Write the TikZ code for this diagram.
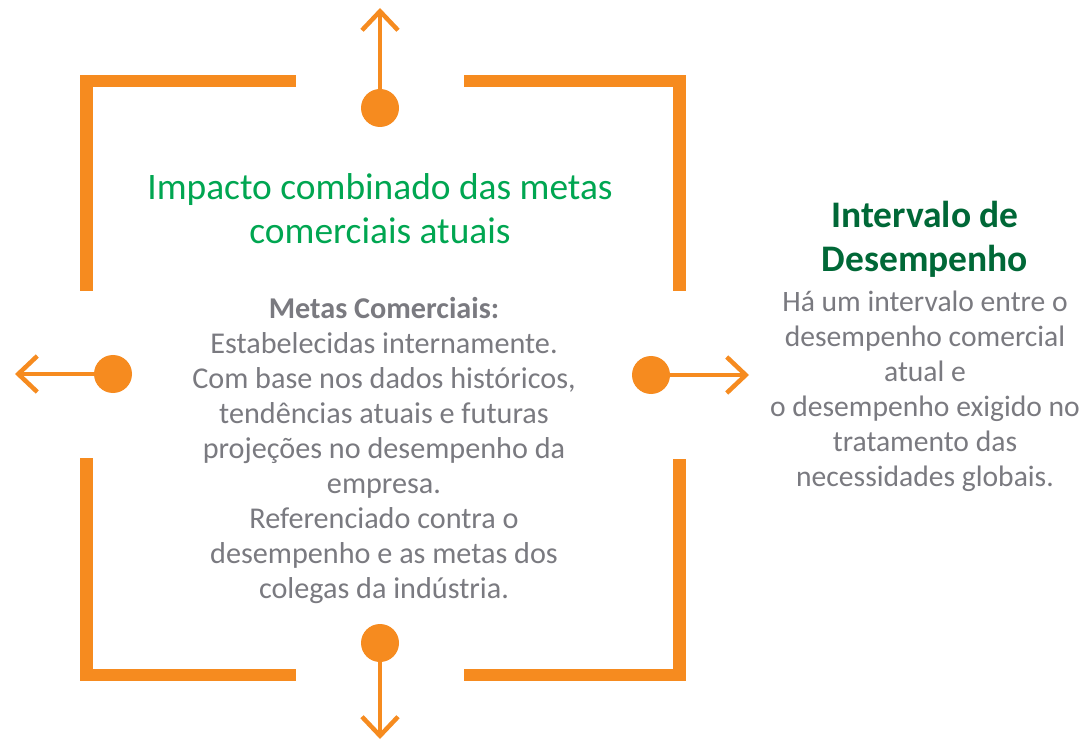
\documentclass[tikz,border=0pt]{standalone}
\usepackage{fontspec}
\setmainfont{Carlito}
\usetikzlibrary{arrows.meta}
\definecolor{orng}{RGB}{246,139,31}
\definecolor{grn}{RGB}{0,166,81}
\definecolor{dgrn}{RGB}{0,104,55}
\definecolor{gry}{RGB}{122,122,128}
\tikzset{
  bracket/.style={draw=orng,line width=12.5pt,line join=miter,line cap=butt},
  dot/.style={circle,fill=orng,minimum size=38pt,inner sep=0pt,draw=none},
  arr/.style={draw=orng,line width=4.5pt,-{Straight Barb[length=19pt,width=36pt]}},
  txt/.style={inner sep=0pt,align=center,anchor=base},
}
\begin{document}
\begin{tikzpicture}[x=1pt,y=-1pt]
\useasboundingbox[fill=white] (0,0) rectangle (1082,743);
% brackets
\draw[bracket] (86.5,291) -- (86.5,81) -- (296,81);
\draw[bracket] (464,81) -- (679.5,81) -- (679.5,291);
\draw[bracket] (86.5,458) -- (86.5,675) -- (296,675);
\draw[bracket] (464,675) -- (679.5,675) -- (679.5,459);
% dots
\node[dot] (ct) at (380,108) {};
\node[dot] (cb) at (380,643) {};
\node[dot] (cl) at (113,374) {};
\node[dot] (cr) at (651,375) {};
\coordinate (tt) at (380,8);
\coordinate (tb) at (380,739);
\coordinate (tl) at (15,374);
\coordinate (tr) at (749,375);
\draw[arr] (ct) -- (tt);
\draw[arr] (cb) -- (tb);
\draw[arr] (cl) -- (tl);
\draw[arr] (cr) -- (tr);
% texts (anchor base = baseline of last line)
\node[txt,text=grn,font=\fontsize{37.4}{44}\selectfont] (title) at (380,244)
  {Impacto combinado das metas\\comerciais atuais};
\node[txt,text=gry,font=\fontsize{30.2}{35}\selectfont] (body) at (384,598)
  {\textbf{Metas Comerciais:}\\Estabelecidas internamente.\\Com base nos dados históricos,\\tendências atuais e futuras\\projeções no desempenho da\\empresa.\\Referenciado contra o\\desempenho e as metas dos\\colegas da indústria.};
\node[txt,text=dgrn,font=\fontsize{37.5}{44}\selectfont\bfseries] (gap) at (925,272)
  {Intervalo de\\Desempenho};
\node[txt,text=gry,font=\fontsize{29.6}{35}\selectfont] (gapbody) at (925,486)
  {Há um intervalo entre o\\desempenho comercial\\atual e\\o desempenho exigido no\\tratamento das\\necessidades globais.};
\end{tikzpicture}
\end{document}
